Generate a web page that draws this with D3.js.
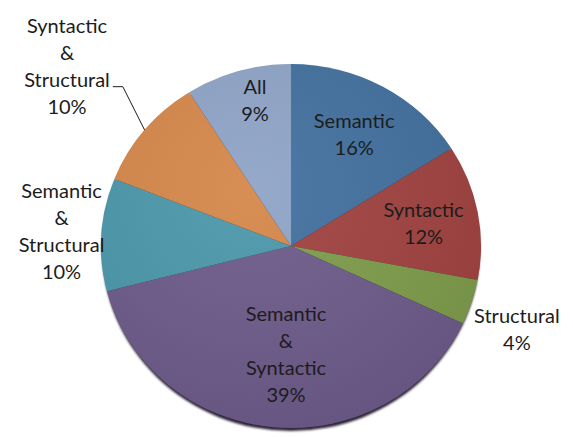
<!DOCTYPE html>
<html>
<head>
<meta charset="utf-8">
<script src="https://cdn.jsdelivr.net/npm/d3@7"></script>
<style>
  html, body { margin: 0; padding: 0; background: #ffffff; }
  svg text { font-family: Lato, "Open Sans", sans-serif; fill: #1c1c1c; }
</style>
</head>
<body>
<div id="chart"></div>
<script>
// Share of each category (percent), clockwise from 12 o'clock
const categories = ["Semantic", "Syntactic", "Structural", "Semantic & Syntactic",
                    "Semantic & Structural", "Syntactic & Structural", "All"];
const shares = [16, 12, 4, 39, 10, 10, 9];
const sliceColors = ["#41709e", "#a04240", "#7e9c4b", "#6d5a8a", "#4a97aa", "#d5874a", "#8ea3c6"];

const width = 573, height = 437;
const cx = 291, cy = 246;
const rx = 190, ry = 182;   // slightly tilted pie

// where each label sits, as [x, y] fractions of the radius along the slice's mid angle
const labelRadius = [[0.69, 0.70], [0.71, 0.65], [1.25, 1.49], [0.28, 0.60],
                     [1.21, 1.23], [1.53, 1.55], [0.68, 0.83]];

const svg = d3.select('#chart').append('svg')
    .attr('width', width)
    .attr('height', height);

const defs = svg.append('defs');
defs.append('filter').attr('id', 'rim')
    .append('feGaussianBlur').attr('stdDeviation', 1.2);

const shade = defs.append('radialGradient').attr('id', 'shade')
    .attr('cx', '40%').attr('cy', '35%').attr('r', '75%');
shade.append('stop').attr('offset', '0%').attr('stop-color', '#fff').attr('stop-opacity', 0.06);
shade.append('stop').attr('offset', '100%').attr('stop-color', '#000').attr('stop-opacity', 0.08);

const pie = d3.pie().sort(null).value(d => d)(shares);
const arc = d3.arc().innerRadius(0).outerRadius(rx);

// dark rim under the pie
svg.append('ellipse')
    .attr('cx', cx).attr('cy', cy + 3)
    .attr('rx', rx - 1).attr('ry', ry)
    .attr('fill', '#2e2638')
    .attr('filter', 'url(#rim)');

const g = svg.append('g')
    .attr('transform', `translate(${cx},${cy}) scale(1,${ry / rx})`);

g.selectAll('path.slice')
    .data(pie)
    .enter()
    .append('path')
    .attr('class', 'slice')
    .attr('d', arc)
    .attr('fill', (d, i) => sliceColors[i]);

g.append('circle')
    .attr('r', rx)
    .attr('fill', 'url(#shade)');

// label anchor for a slice, in page coordinates
function labelPoint(d, kx, ky) {
    const a = (d.startAngle + d.endAngle) / 2;
    return [cx + Math.sin(a) * rx * kx, cy - Math.cos(a) * ry * ky];
}

const lineH = 27;
pie.forEach((d, i) => {
    const [kx, ky] = labelRadius[i];
    const [x, y] = labelPoint(d, kx, ky);
    const lines = categories[i].split(' & ').flatMap((s, j) => j ? ['&', s] : [s]);
    lines.push(shares[i] + '%');
    const t = svg.append('text')
        .attr('text-anchor', 'middle')
        .attr('font-size', 20);
    const lineY = j => y - (lines.length - 1) * lineH / 2 + j * lineH;
    lines.forEach((s, j) => {
        t.append('tspan')
            .attr('x', x)
            .attr('y', lineY(j))
            .attr('dy', '0.35em')
            .text(s);
    });

    // leader line for labels pushed far outside
    if (kx > 1.4) {
        const edge = labelPoint(d, 1, 1);
        const ly = lineY(lines.length - 2) + 7;
        const bb = t.node().getBBox();
        const startX = bb.x + bb.width + 3;
        svg.append('polyline')
            .attr('points', [[startX, ly], [startX + 10, ly], edge].map(p => p.join(',')).join(' '))
            .attr('fill', 'none')
            .attr('stroke', '#1c1c1c')
            .attr('stroke-width', 1);
    }
});
</script>
</body>
</html>
